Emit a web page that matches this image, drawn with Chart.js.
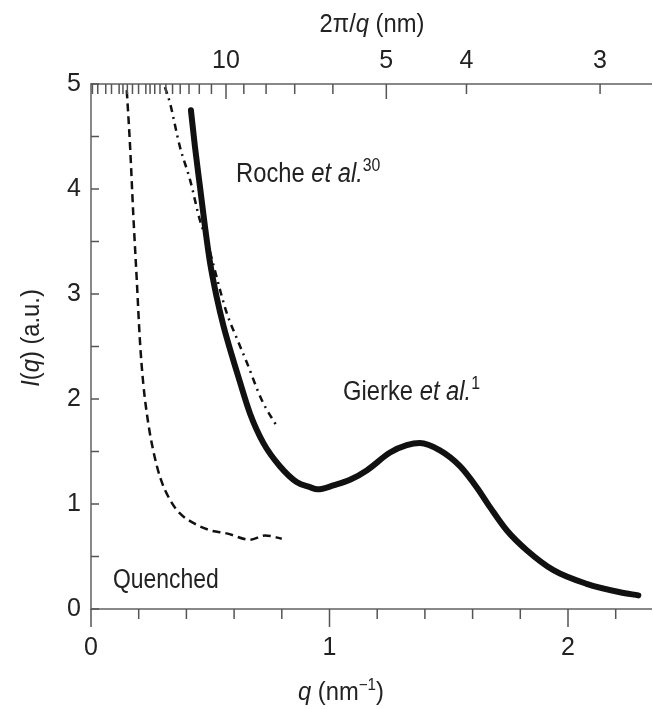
<!DOCTYPE html>
<html lang="en">
<head>
<meta charset="UTF-8">
<title>SAXS profile I(q)</title>
<script src="https://cdn.jsdelivr.net/npm/chart.js"></script>
<style>
    body { margin: 0; background: #fff; }
    #saxsChart { display: block; }
</style>
</head>
<body>
<canvas id="saxsChart" width="653" height="709"></canvas>
<script>
// Gierke et al. - thick solid curve
const gierkeQ = [0.419, 0.436, 0.457, 0.478, 0.499, 0.527, 0.555, 0.590, 0.618, 0.667, 0.723, 0.792, 0.862, 0.918, 0.950, 1.020, 1.086, 1.156, 1.254, 1.324, 1.379, 1.463, 1.547, 1.617, 1.673, 1.743, 1.827, 1.939, 2.078, 2.218, 2.295];
const gierkeI = [4.75, 4.40, 4.02, 3.64, 3.30, 2.97, 2.70, 2.42, 2.21, 1.86, 1.58, 1.36, 1.21, 1.16, 1.14, 1.18, 1.23, 1.32, 1.49, 1.56, 1.58, 1.51, 1.36, 1.16, 0.97, 0.75, 0.56, 0.37, 0.24, 0.16, 0.13];

// Roche et al. - dash-dot curve
const rocheQ = [0.310, 0.331, 0.373, 0.415, 0.457, 0.485, 0.569, 0.611, 0.653, 0.716, 0.779];
const rocheI = [4.97, 4.82, 4.40, 4.09, 3.70, 3.51, 2.82, 2.58, 2.35, 1.99, 1.74];

// Quenched - dashed curve
const quenchQ = [0.150, 0.164, 0.177, 0.192, 0.205, 0.219, 0.240, 0.261, 0.289, 0.331, 0.373, 0.429, 0.499, 0.569, 0.667, 0.730, 0.800];
const quenchI = [4.94, 4.40, 3.77, 3.13, 2.56, 2.15, 1.77, 1.51, 1.26, 1.04, 0.91, 0.82, 0.75, 0.72, 0.66, 0.70, 0.67];

// axis ticks
const xMajorTicks = [0, 1, 2];
const xMinorTicks = [0.2, 0.4, 0.6, 0.8, 1.2, 1.4, 1.6, 1.8, 2.2];
const yMajorTicks = [0, 1, 2, 3, 4, 5];
const yMinorTicks = [0.5, 1.5, 2.5, 3.5, 4.5];
const topLabels = [10, 5, 4, 3];          // 2pi/q in nm
const topLongTicks = [10, 5];
const topMinorTicks = [6, 7, 8, 9, 11, 12, 13, 14, 15, 16, 17, 18, 19, 20, 22, 24, 26, 28, 30, 35, 40, 50, 60];

const FONT = '"Liberation Sans", Arial, sans-serif';
const INK = '#222';

function fontFor(p, size) {
    const s = p.sup ? Math.round(size * 0.65) : size;
    return (p.italic ? 'italic ' : '') + s + 'px ' + FONT;
}

// draw a string made of normal / italic / superscript parts, squeezed by hs
function drawRich(ctx, parts, x, y, size, align, hs) {
    hs = hs || 1;
    let total = 0;
    parts.forEach(p => {
        ctx.font = fontFor(p, size);
        p.w = ctx.measureText(p.text).width;
        total += p.w;
    });
    ctx.save();
    ctx.translate(x, y);
    ctx.scale(hs, 1);
    let cx = align === 'center' ? -total / 2 : 0;
    parts.forEach(p => {
        ctx.font = fontFor(p, size);
        ctx.fillText(p.text, cx, p.sup ? -size * 0.4 : 0);
        cx += p.w;
    });
    ctx.restore();
}

const toPoints = (qs, is) => qs.map((q, i) => ({ x: q, y: is[i] }));

// tick marks (inward on left/top, outward on bottom), titles and curve labels
const decorPlugin = {
    id: 'decor',
    afterDraw(chart) {
        const ctx = chart.ctx;
        const xs = chart.scales.x, ys = chart.scales.y, ts = chart.scales.x2;
        const area = chart.chartArea;
        ctx.save();
        ctx.strokeStyle = '#555';
        ctx.lineWidth = 1.5;
        ctx.beginPath();
        xMajorTicks.forEach(v => {
            const px = xs.getPixelForValue(v);
            ctx.moveTo(px, area.bottom); ctx.lineTo(px, area.bottom + 18);
        });
        xMinorTicks.forEach(v => {
            const px = xs.getPixelForValue(v);
            ctx.moveTo(px, area.bottom); ctx.lineTo(px, area.bottom + 10);
        });
        yMajorTicks.concat(yMinorTicks).forEach(v => {
            const py = ys.getPixelForValue(v);
            ctx.moveTo(area.left, py); ctx.lineTo(area.left + 8, py);
        });
        topLabels.concat(topMinorTicks).forEach(d => {
            const px = ts.getPixelForValue(2 * Math.PI / d);
            if (px < area.left + 1) return;
            const len = topLongTicks.includes(d) ? 15 : 10;
            ctx.moveTo(px, area.top); ctx.lineTo(px, area.top + len);
        });
        ctx.stroke();

        ctx.fillStyle = INK;
        ctx.textBaseline = 'alphabetic';
        ctx.textAlign = 'left';

        drawRich(ctx, [{ text: '2\u03c0/' }, { text: 'q', italic: true }, { text: ' (nm)' }], 372, 32, 25, 'center', 0.95);
        drawRich(ctx, [{ text: 'q', italic: true }, { text: ' (nm' }, { text: '\u22121', sup: true }, { text: ')' }], 341, 700, 25, 'center', 0.95);

        ctx.save();
        ctx.translate(39, 338);
        ctx.rotate(-Math.PI / 2);
        drawRich(ctx, [{ text: 'I', italic: true }, { text: '(' }, { text: 'q', italic: true }, { text: ') (a.u.)' }], 0, 0, 25, 'center', 0.95);
        ctx.restore();

        drawRich(ctx, [{ text: 'Roche ' }, { text: 'et al.', italic: true }, { text: '30', sup: true }],
            xs.getPixelForValue(0.608), ys.getPixelForValue(4.07), 27, 'left', 0.88);
        drawRich(ctx, [{ text: 'Gierke ' }, { text: 'et al.', italic: true }, { text: '1', sup: true }],
            xs.getPixelForValue(1.057), ys.getPixelForValue(1.99), 27, 'left', 0.88);
        drawRich(ctx, [{ text: 'Quenched' }],
            xs.getPixelForValue(0.092), ys.getPixelForValue(0.20), 27, 'left', 0.85);
        ctx.restore();
    }
};

const axisBorder = { display: true, color: '#888', width: 2 };
const tickFont = { family: FONT, size: 25 };

const ctx = document.getElementById('saxsChart').getContext('2d');
const saxsChart = new Chart(ctx, {
    type: 'line',
    data: {
        datasets: [
            {
                label: 'Gierke et al.',
                data: toPoints(gierkeQ, gierkeI),
                borderColor: '#111',
                borderWidth: 6,
                borderCapStyle: 'round',
                borderJoinStyle: 'round',
                cubicInterpolationMode: 'monotone',
                pointRadius: 0,
                fill: false
            },
            {
                label: 'Roche et al.',
                data: toPoints(rocheQ, rocheI),
                borderColor: '#111',
                borderWidth: 2.5,
                borderDash: [7, 5, 2, 5],
                cubicInterpolationMode: 'monotone',
                pointRadius: 0,
                fill: false
            },
            {
                label: 'Quenched',
                data: toPoints(quenchQ, quenchI),
                borderColor: '#111',
                borderWidth: 2.5,
                borderDash: [8, 5],
                cubicInterpolationMode: 'monotone',
                pointRadius: 0,
                fill: false
            }
        ]
    },
    options: {
        responsive: false,
        animation: false,
        layout: { padding: { right: 2 } },
        plugins: { legend: { display: false }, tooltip: { enabled: false } },
        scales: {
            x: {
                type: 'linear',
                position: 'bottom',
                min: 0,
                max: 2.348,
                afterFit: s => { s.height = 100; },
                afterBuildTicks: s => { s.ticks = xMajorTicks.map(v => ({ value: v })); },
                grid: { display: false, drawTicks: false },
                border: axisBorder,
                ticks: { font: tickFont, color: INK, padding: 24, maxRotation: 0 }
            },
            x2: {
                type: 'linear',
                position: 'top',
                min: 0.0992,
                max: 2.294,
                afterFit: s => { s.height = 84; },
                afterBuildTicks: s => { s.ticks = topLabels.map(d => ({ value: 2 * Math.PI / d })); },
                grid: { display: false, drawTicks: false },
                border: axisBorder,
                ticks: { font: tickFont, color: INK, padding: 8, maxRotation: 0,
                    callback: (v, i) => topLabels[i] }
            },
            y: {
                type: 'linear',
                min: 0,
                max: 5,
                afterFit: s => { s.width = 91; },
                afterBuildTicks: s => { s.ticks = yMajorTicks.map(v => ({ value: v })); },
                grid: { display: false, drawTicks: false },
                border: axisBorder,
                ticks: { font: tickFont, color: INK, padding: 10 }
            }
        }
    },
    plugins: [decorPlugin]
});
</script>
</body>
</html>
